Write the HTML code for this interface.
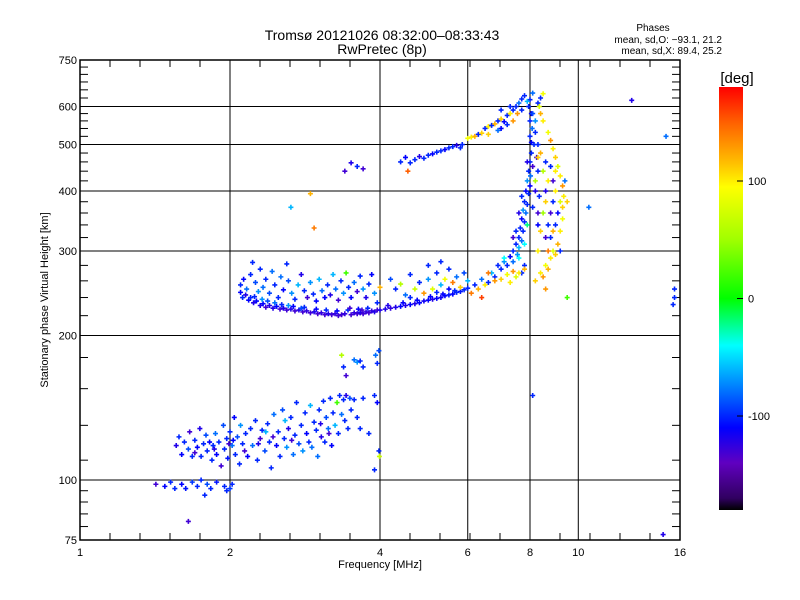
<!DOCTYPE html>
<html><head><meta charset="utf-8"><style>
html,body{margin:0;padding:0;background:#fff;}
svg{display:block;font-family:"Liberation Sans","DejaVu Sans",sans-serif;}
</style></head><body>
<svg id="chart" width="800" height="600" viewBox="0 0 800 600">
<defs>
<linearGradient id="cmap" x1="0" y1="1" x2="0" y2="0"></linearGradient>
</defs>
<text x="382" y="40" text-anchor="middle" font-size="14">Tromsø 20121026 08:32:00–08:33:43</text>
<text x="382" y="54" text-anchor="middle" font-size="14">RwPretec (8p)</text>
<text x="653" y="31" text-anchor="middle" font-size="10">Phases</text>
<text x="722" y="43" text-anchor="end" font-size="10">mean, sd,O: −93.1, 21.2</text>
<text x="722" y="54" text-anchor="end" font-size="10">mean, sd,X:  89.4, 25.2</text>
<g id="grid"></g>
<g id="ticks"></g>
<g id="points"></g>
<rect x="80" y="60" width="600" height="480" fill="none" stroke="#000" stroke-width="1.5"/>
<text x="380" y="568" text-anchor="middle" font-size="11">Frequency [MHz]</text>
<text transform="translate(48,300) rotate(-90)" text-anchor="middle" font-size="11">Stationary phase Virtual Height [km]</text>
<text x="737" y="83" text-anchor="middle" font-size="15">[deg]</text>
<rect x="719" y="87" width="24" height="423" fill="url(#cmap)"/>
<g id="cbticks"></g>
</svg>
<script>
const xMajor = [1, 2, 4, 6, 8, 10, 16];
const yMajor = [75, 100, 200, 300, 400, 500, 600, 750];
const yMinor = [80,85,90,95,110,130,155,180,220,240,260,280,320,340,360,380,420,440,460,480,520,540,560,580,625,650,675,700,725];
const cbTicks = [100, 0, -100];
const cmapDeg = [-180,-170,-140,-110,-75,-40,0,50,95,115,150,180];
const cmapCol = ['#000000','#300060','#6000c0','#0000ff','#0080ff','#00ffff','#00ff00','#a0ff00','#ffff00','#ffc000','#ff6000','#ff0000'];

const eLayer = [[1.42,98,-130],[1.48,97,-110],[1.52,99,-100],[1.55,96,-100],[1.6,98,-110],[1.63,96,-105],[1.68,99,-95],[1.72,97,-100],[1.75,100,-100],[1.8,98,-90],[1.83,96,-100],[1.88,99,-105],[1.95,97,-100],[1.97,95,-100],[2.0,96,-95],[2.02,98,-100],[1.78,93,-100],[1.65,82,-130]];
const lowBlob = [[1.56,118,-120],[1.58,123,-100],[1.6,113,-110],[1.62,120,-100],[1.65,116,-90],[1.66,126,-130],[1.68,112,-100],[1.7,121,-100],[1.72,117,-110],[1.74,128,-120],[1.75,112,-100],[1.77,119,-100],[1.79,124,-90],[1.8,115,-100],[1.82,120,-110],[1.84,110,-100],[1.85,118,-100],[1.87,125,-80],[1.88,113,-110],[1.9,120,-100],[1.92,107,-130],[1.94,130,-90],[1.95,116,-100],[1.97,122,-100],[1.98,111,-105],[2.0,126,-100],[2.02,118,-80],[2.04,135,-110],[2.05,113,-100],[2.07,123,-90],[2.09,108,-100],[2.1,130,-70],[2.12,119,-100],[2.15,125,-100],[2.17,112,-110],[2.2,128,-100],[2.22,118,-80],[2.25,133,-100],[2.27,110,-100],[2.3,122,-130],[2.32,127,-100],[2.35,115,-90],[2.38,131,-100],[2.4,120,-100],[2.42,106,-100],[2.45,137,-80],[2.48,118,-110],[2.5,126,-100],[2.52,112,-100],[2.55,140,-90],[2.57,122,-100],[2.6,117,-70],[2.62,128,-120],[2.65,135,-100],[2.68,113,-80],[2.7,124,-100],[2.72,145,-100],[2.75,119,-90],[2.78,130,-100],[2.8,115,-70],[2.83,138,-100],[2.85,125,-110],[2.88,120,-100],[2.9,143,-60],[2.92,117,-80],[2.95,132,-100],[2.98,127,-100],[3.0,112,-80],[3.02,140,-100],[3.05,123,-120],[3.08,146,-100],[3.1,120,-100],[3.12,135,-90],[3.15,128,-80],[3.18,148,-100],[3.2,118,-110],[3.22,138,-100],[3.25,130,-60],[3.28,145,20],[3.3,125,-100],[3.32,150,-100],[3.35,137,-80],[3.38,147,-100],[3.4,133,-100],[3.42,150,-120],[3.45,128,-100],[3.48,148,-90],[3.5,140,-100],[3.55,147,-100],[3.6,135,-100],[3.65,128,-100],[3.7,148,-100],[3.8,125,-100],[3.9,150,-100],[3.95,145,-110],[3.98,115,-100],[3.35,182,60],[3.38,172,-100],[3.42,165,-130],[3.55,178,-80],[3.6,176,-70],[3.65,177,-100],[3.7,172,-100],[3.92,182,-80],[3.95,175,-100],[3.98,186,-90],[3.9,105,-100],[3.99,112,70],[1.7,114,-130],[1.86,116,-120],[2.14,115,-130],[2.28,119,-120],[2.44,123,-130],[2.66,121,-130],[3.04,131,-120],[3.16,125,-130],[2.36,126,-60],[2.58,133,-60],[1.99,119,-130],[2.03,121,-110]];
const fLower = [[2.1,246,-110],[2.12,240,-100],[2.15,243,-120],[2.18,237,-110],[2.2,240,-100],[2.23,234,-120],[2.26,236,-110],[2.3,231,-120],[2.33,233,-110],[2.36,229,-130],[2.4,231,-120],[2.44,228,-120],[2.48,230,-110],[2.52,227,-130],[2.56,228,-120],[2.6,226,-130],[2.65,227,-120],[2.7,225,-130],[2.75,226,-120],[2.8,224,-130],[2.85,225,-125],[2.9,223,-130],[2.95,224,-120],[3.0,222,-130],[3.05,223,-125],[3.1,221,-130],[3.15,222,-120],[3.2,221,-130],[3.25,222,-125],[3.3,220,-130],[3.35,221,-130],[3.4,222,-125],[3.5,221,-130],[3.55,223,-125],[3.6,222,-130],[3.65,223,-120],[3.7,222,-130],[3.75,224,-125],[3.8,223,-130],[3.85,225,-125],[3.9,224,-120],[3.95,226,-130],[4.0,226,-120],[4.1,227,-120],[4.2,228,-125],[4.3,229,-120],[4.4,230,-110],[4.5,231,-120],[4.6,232,-110],[4.7,233,-120],[4.8,234,-110],[4.9,236,-115],[5.0,237,-110],[5.1,238,-120],[5.2,239,-110],[5.3,240,-115],[5.4,242,-110],[5.5,243,-105],[5.6,244,-110],[5.7,246,-100],[5.8,247,-105],[5.9,249,-100],[6.0,251,-100],[2.24,241,-100],[2.38,236,-90],[2.54,232,-100],[2.68,230,-110],[2.82,229,-100],[2.98,227,-110],[3.12,226,-100],[3.28,225,-110],[3.45,226,-100],[3.62,227,-110],[3.78,228,-100],[2.32,238,-70],[2.46,234,-80],[2.62,231,-70],[2.78,228,-90],[3.48,228,-130],[3.68,226,-130],[4.15,231,-120],[4.45,234,-110],[4.75,237,-110],[5.05,241,-110],[5.35,244,-110],[5.65,248,-100]];
const fSpread = [[2.1,255,-100],[2.13,262,-110],[2.16,250,-80],[2.2,268,-100],[2.22,284,-100],[2.25,258,-90],[2.28,247,-70],[2.3,275,-100],[2.33,252,-80],[2.36,262,-100],[2.4,245,-90],[2.43,272,-80],[2.46,255,-100],[2.5,240,-100],[2.53,265,-80],[2.56,249,-110],[2.6,282,-100],[2.62,260,-90],[2.66,245,-70],[2.7,238,-100],[2.74,255,-60],[2.78,268,-120],[2.82,248,-100],[2.86,240,-130],[2.9,258,-70],[2.94,244,-100],[2.98,236,-110],[3.02,262,-60],[3.06,248,-80],[3.1,240,-110],[3.14,255,-100],[3.18,243,-120],[3.22,268,-60],[3.26,250,-80],[3.3,237,-130],[3.34,260,-100],[3.38,245,-70],[3.42,270,20],[3.46,252,-100],[3.5,240,-110],[3.55,258,-80],[3.6,247,-130],[3.65,266,-100],[3.7,250,-70],[3.75,240,-120],[3.8,256,-100],[3.85,268,-110],[3.9,245,-70],[3.95,234,-100],[4.0,252,120],[4.2,262,-90],[4.3,250,-100],[4.4,256,60],[4.5,243,-80],[4.6,268,-100],[4.7,250,70],[4.8,258,-100],[4.9,245,130],[5.0,262,-70],[5.1,250,80],[5.2,270,-100],[5.3,255,-60],[5.4,262,90],[5.5,275,-100],[5.6,258,140],[5.7,265,-80],[5.8,252,110],[5.9,270,-90],[6.0,260,-60],[4.6,240,-100],[5.2,246,-100],[5.5,250,-110],[5.0,280,-100],[5.3,285,-100]];
const oMode = [[6.2,255,-100],[6.4,262,-80],[6.6,258,-100],[6.7,270,-60],[6.8,265,-100],[7.0,275,-100],[7.1,285,-70],[7.2,280,-100],[7.3,292,-110],[7.4,300,-100],[7.4,285,-80],[7.5,310,-100],[7.55,295,-70],[7.6,320,-100],[7.6,305,-60],[7.65,335,-100],[7.7,315,-80],[7.7,350,-110],[7.75,330,-100],[7.75,365,-70],[7.8,345,-100],[7.8,380,-100],[7.85,360,-80],[7.85,400,-110],[7.9,375,-100],[7.9,420,-70],[7.95,395,-100],[7.95,440,-100],[8.0,410,-110],[8.0,460,-100],[8.02,430,-80],[8.05,480,-100],[8.05,505,-110],[8.0,520,-100],[8.08,540,-80],[8.0,560,-100],[8.05,580,-110],[7.95,600,-100],[8.0,620,-100],[8.1,640,-80],[7.6,290,-40],[7.8,310,-40],[7.9,340,-20],[8.1,370,-100],[8.1,450,-130],[8.15,500,-100],[8.2,400,-120],[7.7,270,-100],[7.8,280,-100],[8.2,530,-100],[8.1,580,-90],[7.5,330,-100],[7.6,360,-120],[7.7,390,-100],[8.3,440,-100],[8.25,470,-130],[8.35,390,-100],[8.3,340,-110],[7.4,320,-130],[7.9,460,-120],[8.2,560,-70]];
const xMode = [[8.2,260,110],[8.4,270,100],[8.5,265,130],[8.6,280,90],[8.7,275,120],[8.8,290,100],[8.9,300,80],[9.0,295,110],[9.1,310,120],[9.2,330,100],[9.3,350,90],[9.3,370,110],[9.35,390,100],[9.3,410,130],[9.2,430,100],[9.1,450,80],[9.0,470,110],[8.9,490,100],[8.8,510,130],[8.7,530,90],[8.5,560,100],[8.4,580,120],[8.6,320,-130],[8.7,340,-100],[8.8,360,-130],[8.9,380,-100],[8.6,400,-120],[8.7,420,100],[8.5,440,60],[8.6,460,-100],[8.4,480,120],[8.3,500,-100],[8.5,360,50],[8.4,330,110],[8.3,300,100],[9.0,340,-100],[9.1,360,-110],[9.2,380,80],[8.9,420,-130],[9.0,440,100],[8.8,450,-100],[8.7,300,140],[8.6,250,130],[8.3,470,110],[9.4,420,-80],[9.5,380,110],[9.2,300,-100],[8.2,420,60],[8.3,360,-130],[8.9,330,120],[6.3,250,120],[6.5,255,100],[6.8,260,130],[7.0,262,110],[7.2,268,90],[7.4,272,130],[7.6,270,100],[7.8,275,120],[6.6,270,140],[7.1,290,-40],[6.1,245,140],[7.3,258,100],[7.5,265,80],[6.9,280,-100],[6.4,240,160],[8.8,320,-100],[9.0,400,100],[8.6,380,110]];
const upper = [[6.0,515,90],[6.1,518,100],[6.2,520,120],[6.3,525,-100],[6.4,528,110],[6.5,540,-100],[6.6,545,100],[6.7,548,-100],[6.8,552,120],[6.9,560,-100],[7.0,565,110],[7.1,558,-110],[7.2,575,-100],[7.3,580,100],[7.4,590,-100],[7.5,600,-100],[7.6,610,-80],[7.7,622,-100],[7.8,632,-100],[7.55,580,130],[7.3,600,-100],[7.0,540,-110],[8.3,610,-100],[8.4,625,-100],[8.5,638,90],[8.35,600,80],[7.9,615,-60],[6.6,525,110],[6.9,535,-80],[7.2,550,-100],[7.4,560,130],[7.0,590,-100],[7.7,590,-100],[4.4,460,-100],[4.5,470,-110],[4.6,458,-100],[4.7,465,-100],[4.8,472,-120],[4.9,468,-100],[5.0,475,-100],[5.1,478,-110],[5.2,482,-100],[5.3,485,-100],[5.4,488,-110],[5.5,492,-100],[5.6,495,-100],[5.7,498,-120],[5.8,492,-100],[5.85,500,-100],[4.55,440,150]];
const strays = [[3.4,440,-130],[3.5,458,-120],[3.6,450,-100],[3.7,445,-130],[2.95,335,140],[2.65,370,-60],[2.9,395,120],[12.8,618,-120],[15.0,520,-80],[14.8,77,-120],[15.6,240,-100],[15.6,250,-100],[15.5,232,-100],[9.5,240,20],[10.5,370,-80],[8.1,150,-100]];

const NS='http://www.w3.org/2000/svg';
const X0=80, X1=680, Y0=60, Y1=540;
function xs(f){return X0+(X1-X0)*Math.log2(f)/Math.log2(16);}
function ys(h){return Y1-(Y1-Y0)*Math.log10(h/75)/Math.log10(10);}
function cy(d){return 510-(d+180)/360*423;}
function hex(c){return [1,3,5].map(i=>parseInt(c.substr(i,2),16));}
function color(d){
  d=Math.max(-180,Math.min(180,d));
  for(let i=0;i<cmapDeg.length-1;i++){
    if(d<=cmapDeg[i+1]){const t=(d-cmapDeg[i])/(cmapDeg[i+1]-cmapDeg[i]);const a=hex(cmapCol[i]),b=hex(cmapCol[i+1]);
      return 'rgb('+a.map((v,k)=>Math.round(v+(b[k]-v)*t)).join(',')+')';}
  }
  return cmapCol[cmapCol.length-1];
}
function mk(tag,attrs,parent){const e=document.createElementNS(NS,tag);for(const k in attrs)e.setAttribute(k,attrs[k]);parent.appendChild(e);return e;}

const grad=document.getElementById('cmap');
cmapDeg.forEach((d,i)=>{mk('stop',{offset:((d+180)/360*100)+'%','stop-color':cmapCol[i]},grad);});

const grid=document.getElementById('grid'), ticks=document.getElementById('ticks');
xMajor.forEach(f=>{
  const x=xs(f);
  if(f>1&&f<16){const l=mk('line',{x1:x,y1:Y0,x2:x,y2:Y1,stroke:'#000','stroke-width':1},grid);
    
    }
  const t=mk('text',{x:x,y:Y1+16,'text-anchor':'middle','font-size':11},ticks);
  t.textContent=f;
  
  
});
for(let k=1;k<20;k++){ if(k%5===0)continue;
  const x=X0+k*30;
  mk('line',{x1:x,y1:Y1,x2:x,y2:Y1-7,stroke:'#000'},ticks);
  mk('line',{x1:x,y1:Y0,x2:x,y2:Y0+7,stroke:'#000'},ticks);
}
yMajor.forEach(h=>{
  const y=ys(h);
  if(h>75&&h<750){const l=mk('line',{x1:X0,y1:y,x2:X1,y2:y,stroke:'#000','stroke-width':1},grid);
    
    }
  const t=mk('text',{x:X0-3,y:y+4,'text-anchor':'end','font-size':11},ticks);
  t.textContent=h;
  
  
});
yMinor.forEach(h=>{const y=ys(h);
  mk('line',{x1:X0,y1:y,x2:X0+8,y2:y,stroke:'#000'},ticks);
  mk('line',{x1:X1,y1:y,x2:X1-8,y2:y,stroke:'#000'},ticks);
});
const cbt=document.getElementById('cbticks');
cbTicks.forEach(d=>{const y=cy(d);
  mk('line',{x1:743,y1:y,x2:737,y2:y,stroke:'#000'},cbt);
  const t=mk('text',{x:748,y:y+4,'font-size':11},cbt);
  t.textContent=d;
  
  
});

const pg=document.getElementById('points');
[eLayer,lowBlob,fLower,fSpread,oMode,xMode,upper,strays].forEach(set=>{
  set.forEach(p=>{
    const x=xs(p[0]), y=ys(p[1]), c=color(p[2]);
    const e=mk('path',{d:`M${x-2.5},${y}H${x+2.5}M${x},${y-2.5}V${y+2.5}`,stroke:c,'stroke-width':1.6,fill:'none'},pg);
    
    
  });
});
</script>
</body></html>
